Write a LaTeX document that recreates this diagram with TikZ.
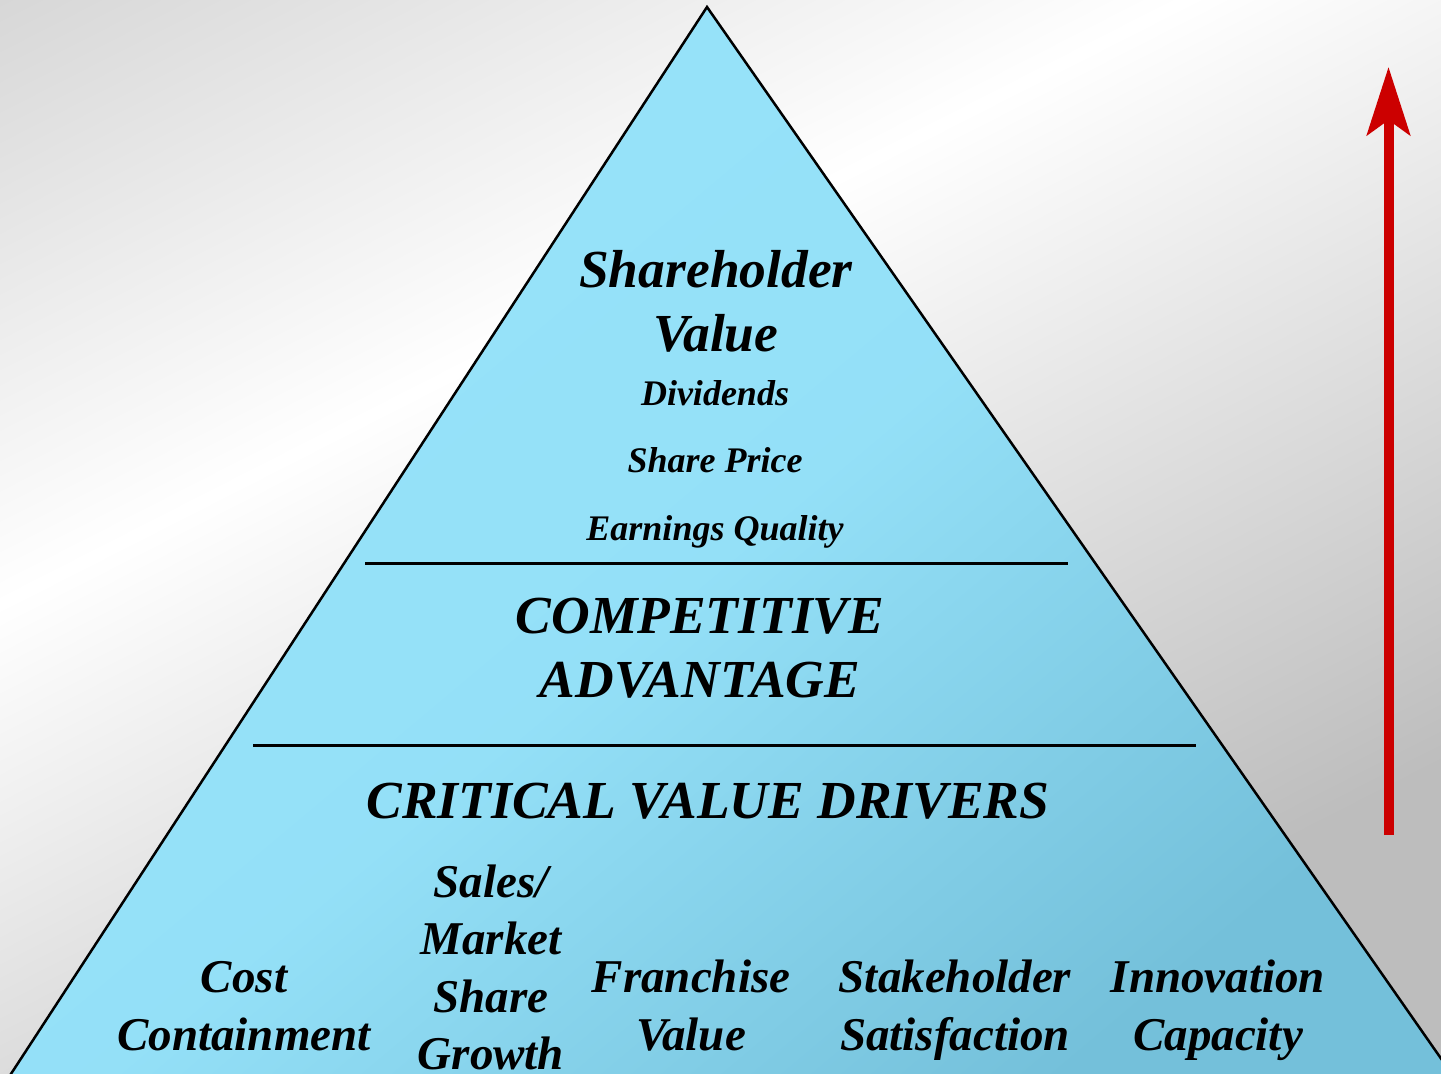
\documentclass[tikz,border=0pt]{standalone}
\usepackage{fontspec}
\setmainfont{Liberation Serif}
\usetikzlibrary{arrows.meta}
\definecolor{bgedge}{HTML}{C4C4C4}
\definecolor{bgedgeB}{HTML}{BDBDBD}
\definecolor{pyrlight}{HTML}{97E3FA}
\definecolor{pyrdark}{HTML}{74C0DA}
\definecolor{arrowred}{HTML}{CC0000}
\begin{document}
\begin{tikzpicture}[x=1pt,y=-1pt,
  txt/.style={align=center, inner sep=0pt, anchor=base},
  bigtxt/.style={txt, font=\fontsize{53.5}{64}\selectfont\bfseries\itshape},
  smalltxt/.style={txt, font=\fontsize{36}{40}\selectfont\bfseries\itshape},
  itemtxt/.style={txt, font=\fontsize{47}{57.5}\selectfont\bfseries\itshape},
  divider/.style={line width=3pt},
  edge/.style={line width=2.5pt, line join=miter}]
\useasboundingbox (0,0) rectangle (1441,1074);
\begin{scope}
\clip (0,0) rectangle (1441,1074);
% background: grey corners fading to a white band running from lower left to upper right
\shade[top color=bgedge, bottom color=bgedgeB, middle color=white, shading angle=27]
  (-441,-374) rectangle (1441,1074);
% pyramid
\coordinate (apex) at (707,7);
\coordinate (baseL) at (7,1080);
\coordinate (baseR) at (1456,1080);
\shade[top color=pyrlight, bottom color=pyrdark, middle color=pyrlight!92!pyrdark, shading angle=40]
  (apex) -- (baseR) -- (baseL) -- cycle;
\draw[edge] (baseL) -- (apex) -- (baseR);
\end{scope}
% tier dividers
\coordinate (d1l) at (365,563);
\coordinate (d1r) at (1068,563);
\coordinate (d2l) at (253,745);
\coordinate (d2r) at (1196,745);
\draw[divider] (d1l) -- (d1r);
\draw[divider] (d2l) -- (d2r);
% labels (anchored at the baseline of their last line)
\node[bigtxt] (sv) at (716,351) {Shareholder\\Value};
\node[smalltxt] (div) at (715,405) {Dividends};
\node[smalltxt] (sp) at (715,472) {Share Price};
\node[smalltxt] (eq) at (715,540) {Earnings Quality};
\node[bigtxt] (ca) at (700,697) {COMPETITIVE\\ADVANTAGE};
\node[bigtxt] (cvd) at (708,818) {CRITICAL VALUE DRIVERS};
\node[itemtxt] (cost) at (244,1050) {Cost\\Containment};
\node[itemtxt] (sales) at (491,1069.5) {Sales/\\Market\\Share\\Growth};
\node[itemtxt] (fran) at (691,1050) {Franchise\\Value};
\node[itemtxt] (stake) at (955,1050) {Stakeholder\\Satisfaction};
\node[itemtxt] (innov) at (1218,1050) {Innovation\\Capacity};
% upward arrow
\coordinate (arrowfoot) at (1388.5,835);
\coordinate (arrowhead) at (1388.5,67);
\draw[arrowred, line width=10pt,
  -{Stealth[length=68pt, width=43pt, inset=15pt]}] (arrowfoot) -- (arrowhead);
\end{tikzpicture}
\end{document}
